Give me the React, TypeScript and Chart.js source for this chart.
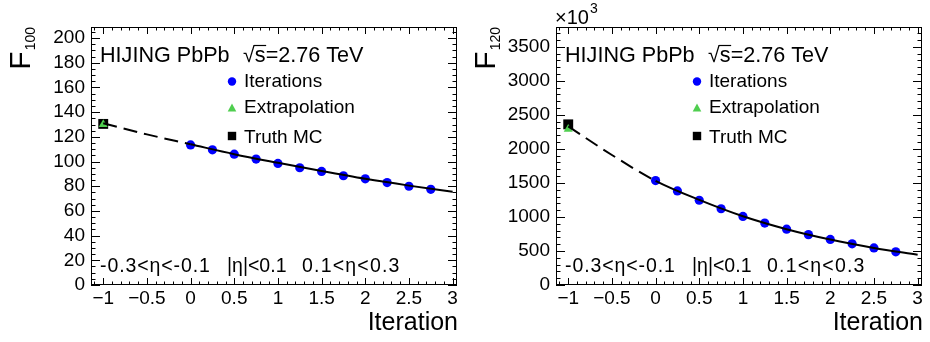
import React, { useEffect, useRef } from 'react';
import { Chart, registerables } from 'chart.js';

Chart.register(...registerables);

const FONT = '"Liberation Sans", Arial, Helvetica, sans-serif';

// ---- data ----
const iterationX = [0, 0.25, 0.5, 0.75, 1, 1.25, 1.5, 1.75, 2, 2.25, 2.5, 2.75];
const fitX = [-1, -0.5, 0, 0.5, 1, 1.5, 2, 2.5, 3];
const extrapX = -1;

const f100Iterations = [113.5, 109.5, 106, 102, 98.5, 95, 92, 88.5, 86, 83, 80, 77.5];
const f100Extrapolation = 130;
const f100Truth = 130.5;
const f100Fit = [131, 122, 114, 106, 99, 92.3, 86, 80.5, 75.5];

const f120Iterations = [1534, 1382, 1245, 1120, 1008, 910, 820, 740, 670, 605, 545, 488];
const f120Extrapolation = 2290;
const f120Truth = 2360;
const f120Fit = [2330, 1910, 1530, 1250, 1010, 820, 668, 545, 443];

const xMin = -1.14;
const xMax = 3.05;
const xTicks = [-1, -0.5, 0, 0.5, 1, 1.5, 2, 2.5, 3];
const f100YTicks = [0, 20, 40, 60, 80, 100, 120, 140, 160, 180, 200];
const f120YTicks = [0, 500, 1000, 1500, 2000, 2500, 3000, 3500];

const legendLabels = ['Iterations', 'Extrapolation', 'Truth MC'];
const headerText = 'HIJING PbPb';
const energyText = 's=2.76 TeV';
const etaTexts = ['-0.3<\u03b7<-0.1', '|\u03b7|<0.1', '0.1<\u03b7<0.3'];
const xTitle = 'Iteration';

type Panel = {
  sub: string;
  yMax: number;
  yMajor: number;
  yMinor: number;
  yTicks: number[];
  iter: number[];
  extrap: number;
  truth: number;
  fit: number[];
  exponent: boolean;
};

const panels: Panel[] = [
  { sub: '100', yMax: 209, yMajor: 20, yMinor: 5, yTicks: f100YTicks, iter: f100Iterations, extrap: f100Extrapolation, truth: f100Truth, fit: f100Fit, exponent: false },
  { sub: '120', yMax: 3790, yMajor: 500, yMinor: 100, yTicks: f120YTicks, iter: f120Iterations, extrap: f120Extrapolation, truth: f120Truth, fit: f120Fit, exponent: true },
];

const BLUE = '#0000ff';
const GREEN = '#4fce4f';

function fmtX(v: number) {
  if (Math.abs(v) < 1e-9) return '0';
  return String(v).replace('-', '\u2212');
}

function decorPlugin(p: Panel) {
  return {
    id: 'rootDecor',
    afterDraw(chart: any) {
      const ctx = chart.ctx as CanvasRenderingContext2D;
      const { left, right, top, bottom } = chart.chartArea;
      const xs = chart.scales.x;
      const ys = chart.scales.y;
      ctx.save();
      ctx.strokeStyle = '#000';
      ctx.lineWidth = 1;
      ctx.strokeRect(left + 0.5, top + 0.5, right - left - 1, bottom - top - 1);
      ctx.beginPath();
      // x ticks (minor every 0.1)
      for (let k = Math.ceil(xMin * 10); k <= Math.floor(xMax * 10); k++) {
        const px = Math.round(xs.getPixelForValue(k / 10)) + 0.5;
        const len = k % 5 === 0 ? 7 : 3.5;
        ctx.moveTo(px, bottom);
        ctx.lineTo(px, bottom - len);
        ctx.moveTo(px, top);
        ctx.lineTo(px, top + len);
      }
      // y ticks
      for (let k = 0; k * p.yMinor <= p.yMax; k++) {
        const v = k * p.yMinor;
        const py = Math.round(ys.getPixelForValue(v)) + 0.5;
        const len = v % p.yMajor === 0 ? 9 : 4.5;
        ctx.moveTo(left, py);
        ctx.lineTo(left + len, py);
        ctx.moveTo(right, py);
        ctx.lineTo(right - len, py);
      }
      ctx.stroke();

      ctx.fillStyle = '#000';
      // Y title
      ctx.save();
      ctx.translate(left - 61, top);
      ctx.rotate(-Math.PI / 2);
      ctx.textAlign = 'right';
      ctx.textBaseline = 'alphabetic';
      ctx.font = `14px ${FONT}`;
      const subW = ctx.measureText(p.sub).width;
      ctx.fillText(p.sub, 0, 5);
      ctx.font = `30px ${FONT}`;
      ctx.fillText('F', -subW - 1, 0);
      ctx.restore();

      // exponent
      if (p.exponent) {
        ctx.textAlign = 'left';
        ctx.font = `20px ${FONT}`;
        ctx.fillText('\u00d710', left - 1, 24);
        const w = ctx.measureText('\u00d710').width;
        ctx.font = `14px ${FONT}`;
        ctx.fillText('3', left + w, 13);
      }

      // X title
      ctx.textAlign = 'right';
      ctx.font = `25px ${FONT}`;
      ctx.fillText(xTitle, right + 1, 330);

      // header
      ctx.textAlign = 'left';
      ctx.font = `21.6px ${FONT}`;
      ctx.fillText(headerText, left + 9, 62);
      const sx = left + 152;
      ctx.fillText('\u221a', sx, 62);
      const rw = ctx.measureText('\u221a').width;
      ctx.fillText(energyText, sx + rw, 62);
      const sw = ctx.measureText('s').width;
      ctx.beginPath();
      ctx.lineWidth = 1.2;
      ctx.moveTo(sx + rw - 1, 45.5);
      ctx.lineTo(sx + rw + sw + 0.5, 45.5);
      ctx.stroke();

      // legend
      const mx = left + 141;
      ctx.font = `19px ${FONT}`;
      ctx.fillStyle = BLUE;
      ctx.beginPath();
      ctx.arc(mx, 81.5, 4.2, 0, Math.PI * 2);
      ctx.fill();
      ctx.fillStyle = GREEN;
      ctx.beginPath();
      ctx.moveTo(mx, 103.5);
      ctx.lineTo(mx + 4.3, 111.5);
      ctx.lineTo(mx - 4.3, 111.5);
      ctx.closePath();
      ctx.fill();
      ctx.fillStyle = '#000';
      ctx.fillRect(mx - 4.2, 131.8, 8.4, 8.4);
      ctx.fillText(legendLabels[0], left + 153, 87);
      ctx.fillText(legendLabels[1], left + 153, 113);
      ctx.fillText(legendLabels[2], left + 153, 143);

      // eta ranges
      ctx.font = `19.5px ${FONT}`;
      (ctx as any).letterSpacing = '0.9px';
      ctx.fillText(etaTexts[0], left + 9, 272);
      (ctx as any).letterSpacing = '0px';
      ctx.fillText(etaTexts[1], left + 136, 272);
      (ctx as any).letterSpacing = '1.2px';
      ctx.fillText(etaTexts[2], left + 211, 272);
      (ctx as any).letterSpacing = '0px';
      ctx.restore();
    },
  };
}

function PanelChart({ p }: { p: Panel }) {
  const ref = useRef<HTMLCanvasElement | null>(null);
  useEffect(() => {
    if (!ref.current) return;
    const chart = new Chart(ref.current, {
      type: 'scatter',
      data: {
        datasets: [
          {
            label: 'fit',
            data: fitX.map((x, i) => ({ x, y: p.fit[i] })),
            showLine: true,
            borderColor: '#000',
            borderWidth: 2,
            pointRadius: 0,
            cubicInterpolationMode: 'monotone',
            segment: {
              borderDash: (c: any) => (c.p1.parsed.x <= 0 ? [14, 7] : undefined),
            },
            order: 0,
          } as any,
          {
            label: legendLabels[0],
            data: iterationX.map((x, i) => ({ x, y: p.iter[i] })),
            pointStyle: 'circle',
            pointRadius: 4.6,
            backgroundColor: BLUE,
            borderColor: BLUE,
            borderWidth: 0,
            order: 1,
          },
          {
            label: legendLabels[1],
            data: [{ x: extrapX, y: p.extrap }],
            pointStyle: 'triangle',
            pointRadius: 5.2,
            backgroundColor: GREEN,
            borderColor: GREEN,
            borderWidth: 0,
            order: 2,
          },
          {
            label: legendLabels[2],
            data: [{ x: extrapX, y: p.truth }],
            pointStyle: 'rect',
            pointRadius: 7,
            backgroundColor: '#000',
            borderColor: '#000',
            borderWidth: 0,
            order: 3,
          },
        ],
      },
      options: {
        animation: false,
        responsive: false,
        devicePixelRatio: 1,
        layout: { padding: { left: 0, right: 8, top: 27, bottom: 0 } },
        plugins: { legend: { display: false }, tooltip: { enabled: false } },
        scales: {
          x: {
            type: 'linear',
            min: xMin,
            max: xMax,
            grid: { display: false, drawTicks: false },
            border: { display: false },
            afterBuildTicks: (s: any) => {
              s.ticks = xTicks.map((v) => ({ value: v }));
            },
            ticks: {
              autoSkip: false,
              maxRotation: 0,
              padding: 2,
              color: '#000',
              font: { family: FONT, size: 19 },
              callback: (v: any) => fmtX(Number(v)),
            },
            afterFit: (s: any) => {
              s.height = 57;
            },
          },
          y: {
            type: 'linear',
            min: 0,
            max: p.yMax,
            grid: { display: false, drawTicks: false },
            border: { display: false },
            afterBuildTicks: (s: any) => {
              s.ticks = p.yTicks.map((v) => ({ value: v }));
            },
            ticks: {
              autoSkip: false,
              padding: 6,
              color: '#000',
              font: { family: FONT, size: 19 },
              callback: (v: any) => String(v),
            },
            afterFit: (s: any) => {
              s.width = 91;
            },
          },
        },
      },
      plugins: [decorPlugin(p)],
    });
    return () => chart.destroy();
  }, [p]);
  return <canvas ref={ref} width={465} height={342} style={{ width: 465, height: 342, display: 'block' }} />;
}

export default function App() {
  return (
    <div style={{ position: 'fixed', left: 0, top: 0, width: 930, height: 342, display: 'flex', background: '#fff' }}>
      {panels.map((p) => (
        <PanelChart key={p.sub} p={p} />
      ))}
    </div>
  );
}
